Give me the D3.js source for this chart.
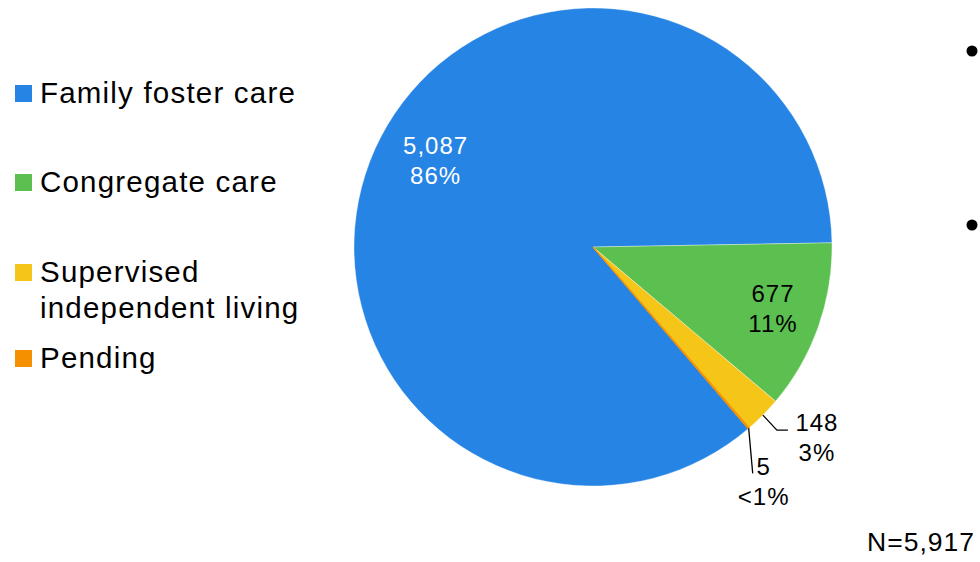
<!DOCTYPE html>
<html>
<head>
<meta charset="utf-8">
<script src="https://cdn.jsdelivr.net/npm/d3@7/dist/d3.min.js"></script>
<style>
  html, body { margin: 0; padding: 0; background: #fff; }
  svg { display: block; font-family: "Liberation Sans", Arimo, Arial, sans-serif; }
</style>
</head>
<body>
<svg id="chart" width="980" height="562"></svg>
<script>
// ---- data ----
const categories = ["Family foster care", "Congregate care", "Supervised independent living", "Pending"];
const legendLines = [["Family foster care"], ["Congregate care"], ["Supervised", "independent living"], ["Pending"]];
const counts = [5087, 677, 148, 5];
const countLabels = ["5,087", "677", "148", "5"];
const pctLabels = ["86%", "11%", "3%", "<1%"];
const totalLabel = "N=5,917";
const colors = ["#2684E5", "#5BC04F", "#F5C518", "#F59100"];

// ---- layout ----
const svg = d3.select("#chart");
const cx = 593, cy = 247, R = 239;
const startDeg = 139.5;

const pie = d3.pie().sort(null)
  .startAngle(startDeg * Math.PI / 180)
  .endAngle(startDeg * Math.PI / 180 + 2 * Math.PI);
const arcs = pie(counts);
const arc = d3.arc().innerRadius(0).outerRadius(R);

const g = svg.append("g").attr("transform", `translate(${cx},${cy})`);
g.selectAll("path.slice").data(arcs).enter().append("path")
  .attr("class", "slice")
  .attr("d", arc)
  .attr("fill", (d, i) => colors[i])
  .attr("stroke", (d, i) => i === 3 ? colors[i] : "#ffffff")
  .attr("stroke-width", (d, i) => i === 3 ? 1.2 : 0.35);

// label placement config (layout only)
const labelCfg = [
  { type: "in", f: 0.75, dx: 6, dy: -13, fill: "#ffffff" },
  { type: "in", f: 0.795, dx: 1, dy: -3, fill: "#000000" },
  { type: "out", elbow: [14, 15], end: [11, 0], text: [29, 1], fill: "#000000" },
  { type: "out", elbow: [4, 45], end: [0, 0], text: [11, 2], fill: "#000000" }
];

const fs = 24, ls = 1.0, lh = 30;
function twoLine(sel, x, yFirst, a, b, fill) {
  const t = sel.append("text")
    .attr("x", x).attr("y", yFirst)
    .attr("text-anchor", "middle")
    .attr("font-size", fs)
    .attr("letter-spacing", ls)
    .attr("fill", fill);
  t.append("tspan").attr("x", x).attr("y", yFirst).text(a);
  t.append("tspan").attr("x", x).attr("y", yFirst + lh).text(b);
}

arcs.forEach((d, i) => {
  const c = labelCfg[i];
  const mid = (d.startAngle + d.endAngle) / 2;
  if (c.type === "in") {
    const r = R * c.f;
    const x = r * Math.sin(mid) + c.dx;
    const y = -r * Math.cos(mid) + c.dy;
    twoLine(g, x, y - 6, countLabels[i], pctLabels[i], c.fill);
  } else {
    const x0 = R * Math.sin(mid), y0 = -R * Math.cos(mid);
    const x1 = x0 + c.elbow[0], y1 = y0 + c.elbow[1];
    const x2 = x1 + c.end[0], y2 = y1 + c.end[1];
    g.append("polyline")
      .attr("points", [[x0, y0], [x1, y1], [x2, y2]].map(p => p.join(",")).join(" "))
      .attr("fill", "none").attr("stroke", "#000").attr("stroke-width", 1.3);
    twoLine(g, x2 + c.text[0], y2 + c.text[1], countLabels[i], pctLabels[i], c.fill);
  }
});

// ---- legend ----
const legendY = [103, 192, 282, 368];
const leg = svg.append("g");
categories.forEach((cat, i) => {
  const by = legendY[i];
  leg.append("rect")
    .attr("x", 15).attr("y", by - 18).attr("width", 17).attr("height", 17)
    .attr("fill", colors[i]);
  const t = leg.append("text")
    .attr("x", 40).attr("y", by)
    .attr("font-size", 29.5).attr("letter-spacing", 1.2).attr("fill", "#000");
  legendLines[i].forEach((ln, j) => {
    t.append("tspan").attr("x", 40).attr("y", by + j * 36).text(ln);
  });
});

// ---- N total ----
svg.append("text")
  .attr("x", 975).attr("y", 551)
  .attr("text-anchor", "end")
  .attr("font-size", 26.5).attr("letter-spacing", 1.0)
  .attr("fill", "#000")
  .text(totalLabel);

// ---- cropped bullet points at right edge ----
[51, 225].forEach(y => {
  svg.append("circle").attr("cx", 972).attr("cy", y).attr("r", 5.5).attr("fill", "#000");
});
</script>
</body>
</html>
